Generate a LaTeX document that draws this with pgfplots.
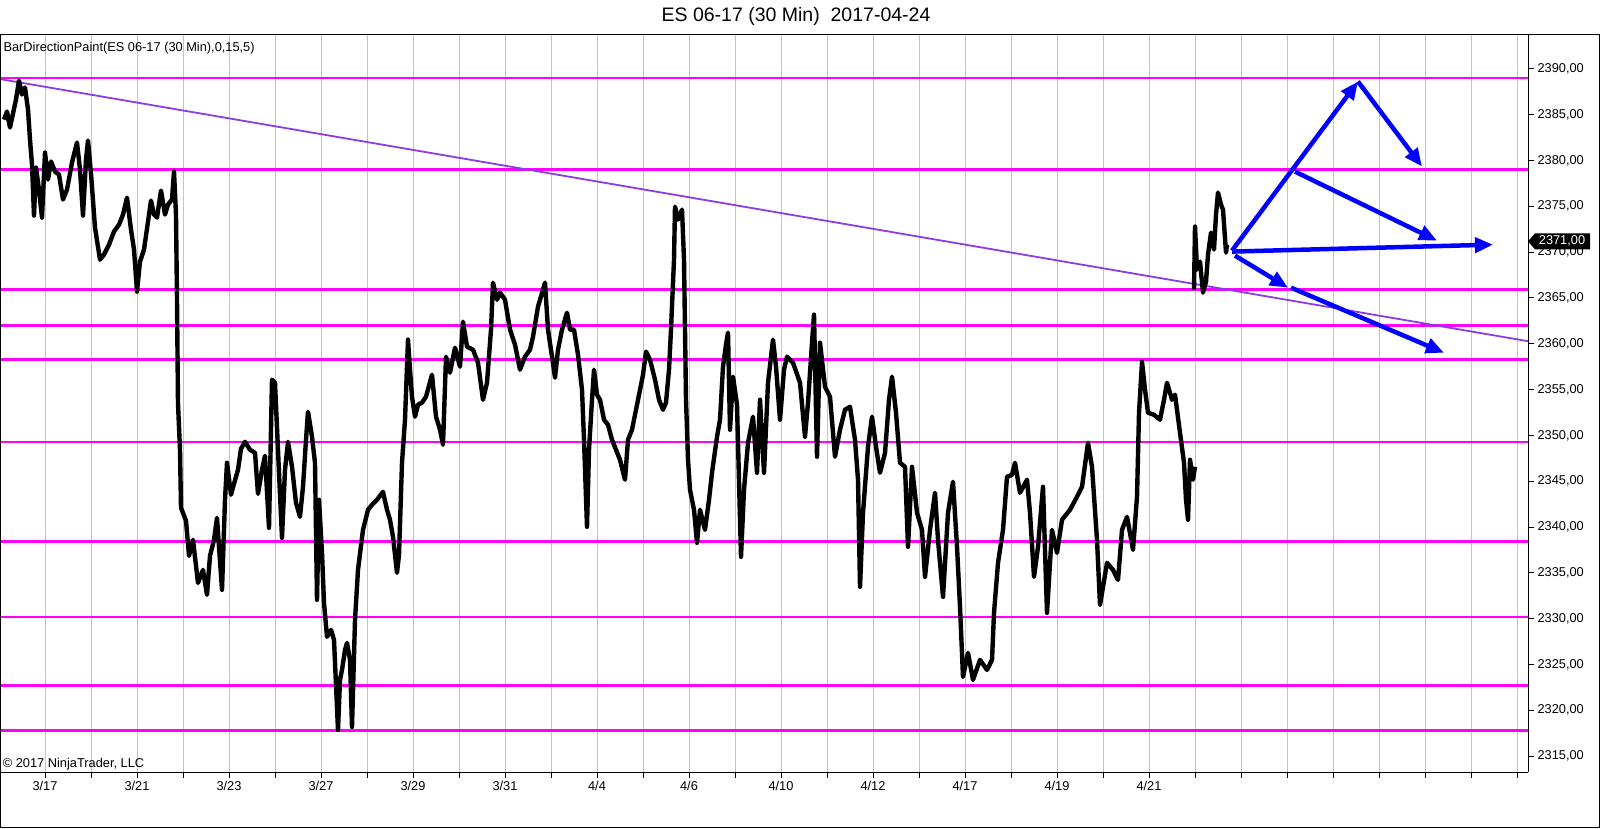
\documentclass[border=0pt]{standalone}
\usepackage{pgfplots}
\usepackage{pgfplotstable}
\pgfplotsset{compat=1.18}
\usepackage{fontspec}
\setmainfont{Liberation Sans}
\usetikzlibrary{arrows.meta,calc}
\definecolor{ntmag}{RGB}{255,0,255}
\definecolor{nttrend}{RGB}{140,60,230}
\definecolor{ntgrid}{RGB}{196,196,196}
\definecolor{ntblue}{RGB}{0,0,255}

% ES 06-17, 30 min: price path (x in chart pixels, price)
\pgfplotstableread{
x p
4 2384.47
7 2385.35
10 2383.6
13 2385.13
16 2386.66
19 2388.73
22 2387.2
25 2387.97
28 2385.57
30 2382.29
32 2379.56
34 2373.99
36 2379.23
39 2376.83
42 2373.77
45 2380.87
48 2377.92
51 2379.89
55 2378.8
59 2378.47
63 2375.74
67 2376.83
72 2379.78
77 2381.96
80 2379.01
83 2373.99
86 2380.1
88 2382.18
91 2378.58
95 2372.68
100 2369.18
104 2369.73
109 2370.82
114 2372.24
119 2373.0
123 2374.1
127 2375.95
131 2372.46
134 2370.28
137 2365.69
140 2368.97
144 2370.28
148 2373.33
151 2375.63
154 2374.1
157 2373.77
161 2376.72
165 2374.1
168 2375.19
172 2375.74
174 2378.8
176 2374.1
177 2364.81
178 2353.45
180 2348.43
181 2342.1
186 2340.68
189 2336.85
193 2338.6
198 2333.9
203 2335.33
207 2332.59
210 2336.85
214 2338.6
217 2341.0
222 2333.14
225 2342.97
227 2347.01
231 2343.52
234 2344.72
238 2346.25
241 2348.54
245 2349.3
250 2348.43
255 2348.1
258 2343.62
262 2346.25
265 2347.78
269 2339.91
272 2356.08
275 2355.75
279 2345.92
282 2338.82
285 2346.25
288 2349.3
292 2346.57
296 2342.64
300 2341.11
303 2344.39
306 2349.52
308 2352.58
312 2349.85
315 2347.01
317 2332.05
319 2342.97
322 2337.18
324 2331.72
327 2328.01
331 2328.77
334 2327.68
338 2317.85
340 2323.31
342 2324.4
345 2326.59
347 2327.35
350 2325.5
352 2318.18
355 2329.86
358 2335.32
363 2339.69
368 2341.88
372 2342.42
377 2342.97
383 2343.84
387 2341.88
390 2340.79
393 2338.93
397 2335.0
399 2336.96
402 2347.01
405 2351.71
408 2360.45
410 2357.17
412 2354.22
415 2352.04
418 2353.35
422 2353.57
426 2354.22
432 2356.62
436 2352.04
440 2350.62
443 2348.98
446 2358.59
450 2356.84
455 2359.57
460 2357.5
463 2362.41
467 2359.68
473 2359.35
478 2357.93
483 2353.89
487 2355.75
491 2361.54
493 2366.67
497 2364.81
500 2365.58
505 2364.81
510 2361.54
515 2359.9
520 2357.17
525 2358.59
530 2359.35
533 2360.77
538 2364.05
545 2366.67
548 2361.54
552 2358.59
555 2356.3
558 2359.35
562 2361.54
567 2363.39
570 2361.54
574 2361.54
578 2358.81
582 2354.98
584 2349.52
587 2340.02
589 2348.43
592 2353.89
594 2357.17
597 2354.44
600 2353.89
604 2351.71
608 2351.16
612 2349.52
616 2348.43
620 2347.34
625 2345.16
628 2349.52
632 2350.62
636 2352.8
640 2354.98
643 2356.62
646 2359.14
650 2358.26
655 2356.08
659 2353.89
663 2352.8
666 2353.57
669 2357.17
671 2361.54
674 2369.18
675 2374.97
678 2373.55
682 2374.64
684 2369.18
686 2353.89
688 2347.34
690 2344.06
694 2341.88
697 2338.27
700 2341.88
705 2339.69
709 2342.97
712 2345.92
717 2349.85
720 2351.71
723 2357.5
726 2359.9
728 2361.21
730 2350.62
733 2356.4
737 2353.35
741 2336.74
744 2344.06
748 2349.19
753 2352.04
757 2345.92
760 2353.89
764 2345.92
768 2355.75
773 2360.45
776 2357.5
780 2351.71
784 2357.17
787 2358.59
793 2357.93
800 2355.75
805 2349.85
808 2353.57
812 2360.12
814 2363.18
817 2347.67
820 2360.12
825 2355.31
830 2354.22
835 2347.67
840 2350.62
845 2352.8
850 2353.13
855 2349.52
858 2345.16
860 2333.47
863 2341.55
868 2348.76
872 2352.04
876 2348.76
880 2345.92
885 2348.1
889 2353.89
892 2356.4
896 2352.47
900 2347.01
905 2346.57
908 2337.84
912 2346.57
917 2341.55
922 2339.69
925 2334.56
930 2339.69
935 2343.74
938 2338.6
943 2332.37
948 2341.55
953 2344.94
957 2337.84
960 2331.28
963 2323.64
968 2326.26
973 2323.31
980 2325.5
987 2324.4
992 2325.5
994 2330.63
998 2336.09
1003 2339.69
1007 2345.48
1012 2345.7
1015 2347.01
1020 2343.74
1027 2345.16
1030 2341.55
1034 2334.56
1038 2337.84
1043 2344.39
1047 2330.63
1052 2339.69
1057 2337.18
1062 2340.79
1070 2341.88
1077 2343.3
1082 2344.39
1088 2349.19
1092 2346.57
1097 2338.6
1100 2331.5
1107 2336.09
1113 2335.32
1118 2334.23
1122 2339.69
1127 2341.11
1133 2337.51
1137 2343.3
1139 2352.47
1142 2358.04
1145 2354.98
1148 2352.47
1154 2352.25
1160 2351.71
1164 2353.89
1167 2355.75
1172 2353.89
1175 2354.44
1180 2350.29
1184 2347.01
1186 2342.97
1188 2340.79
1190 2347.34
1193 2345.16
1195 2346.57
}\sessA

\pgfplotstableread{
x p
1194 2365.91
1195 2372.79
1197 2368.09
1200 2368.97
1203 2365.58
1206 2366.78
1208 2369.73
1211 2372.13
1214 2370.28
1216 2374.1
1218 2376.5
1221 2375.19
1223 2374.64
1226 2369.95
1227 2370.82
}\sessB

\begin{document}
\begin{tikzpicture}[x=1pt,y=1pt]
\useasboundingbox (0,0) rectangle (1600,828);
\begin{axis}[
  at={(0pt,56pt)}, anchor=south west,
  scale only axis, width=1528pt, height=738pt,
  xmin=0, xmax=1528, ymin=2313.26, ymax=2393.81,
  axis x line*=bottom, axis y line*=right,
  axis line style={black, line width=1pt, -},
  tick align=outside, major tick length=6pt,
  tick style={black, line width=1pt},
  xtick={45,91,...,1517},
  xticklabels={3/17,{},3/21,{},3/23,{},3/27,{},3/29,{},3/31,{},4/4,{},4/6,{},4/10,{},4/12,{},4/17,{},4/19,{},4/21},
  ytick={2315,2320,...,2390},
  /pgf/number format/assume math mode=true,
  yticklabel style={/pgf/number format/.cd, fixed, fixed zerofill, precision=2, use comma, 1000 sep={}},
  tick label style={font=\fontsize{12.8}{14}\selectfont},
  xmajorgrids, major grid style={ntgrid, line width=1pt},
  bluearrow/.style={ntblue, line width=4.5pt, -{Triangle[length=18pt,width=15pt]}},
]
\pgfplotsinvokeforeach{2389.0,2379.0,2365.9,2362.0,2358.3,2349.3,2338.4,2330.2,2322.7,2317.8}{
  \addplot[ntmag, line width=2.5pt] coordinates {(0,#1) (1528,#1)};
}
\addplot[nttrend, line width=1.8pt] coordinates {(0,2388.89) (1528,2360.28)};
\addplot[black, line width=4.4pt, line join=round] table[x=x,y=p] {\sessA};
\addplot[black, line width=4.4pt, line join=round] table[x=x,y=p] {\sessB};
\addplot[bluearrow] coordinates {(1232,2370.17) (1358,2388.62)};
\addplot[bluearrow] coordinates {(1358,2388.62) (1422,2379.34)};
\addplot[bluearrow] coordinates {(1295,2378.79) (1437,2371.26)};
\addplot[bluearrow] coordinates {(1232,2370.06) (1493,2370.82)};
\addplot[bluearrow] coordinates {(1235,2369.62) (1288,2366.12)};
\addplot[bluearrow] coordinates {(1291,2366.12) (1444,2359.02)};
\coordinate (cp) at (axis cs:1528,2371.18);
\end{axis}
\draw[black, line width=1pt] (0.5,0.5) rectangle (1599.5,793.5);
\fill[black] (cp) -- ++(7,8) -- ++(55,0) -- ++(0,-16) -- ++(-55,0) -- cycle;
\node[white, font=\fontsize{12.8}{14}\selectfont, inner sep=0pt] at ($(cp)+(34,0)$) {2371,00};
\node[font=\fontsize{19.5}{22}\selectfont, inner sep=0pt] at (796,811.3) {ES 06-17 (30 Min)\ \ 2017-04-24};
\node[font=\fontsize{12.8}{14}\selectfont, inner sep=0pt, anchor=west] at (3.3,780.3) {BarDirectionPaint(ES 06-17 (30 Min),0,15,5)};
\node[font=\fontsize{12.8}{14}\selectfont, inner sep=0pt, anchor=west] at (2.7,64) {© 2017 NinjaTrader, LLC};
\end{tikzpicture}
\end{document}
